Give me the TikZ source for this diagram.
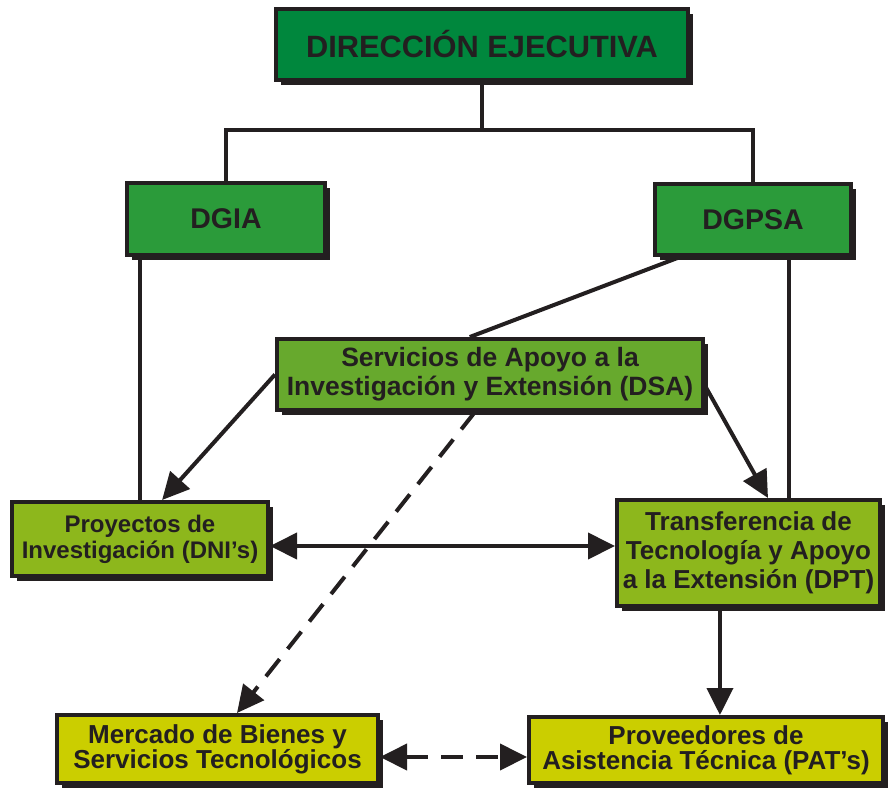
\documentclass[tikz,border=0pt]{standalone}
\usepackage{fontspec}
\setmainfont{Liberation Sans}
\usetikzlibrary{arrows.meta,shadows,calc}
\definecolor{cDir}{HTML}{00873D}
\definecolor{cDG}{HTML}{2B9B3A}
\definecolor{cDSA}{HTML}{67A92D}
\definecolor{cMid}{HTML}{8DB71C}
\definecolor{cLow}{HTML}{CBCE00}
\definecolor{ink}{HTML}{231F20}
\begin{document}
\begin{tikzpicture}[x=1pt,y=-1pt,
  box/.style={draw=ink, line width=4pt, text=ink, align=center, inner sep=0pt,
    drop shadow={shadow xshift=5pt,shadow yshift=-5pt,fill=ink,opacity=1}},
  conn/.style={draw=ink,line width=4pt},
  arr/.style={conn,-{Triangle[length=27pt,width=26pt]}},
  darr/.style={conn,{Triangle[length=27pt,width=26pt]}-{Triangle[length=27pt,width=26pt]}},
  dashline/.style={dash pattern=on 22pt off 13pt}]
\useasboundingbox (0,0) rectangle (893,787);

\node[box, fill=cDir, minimum width=412pt, minimum height=71pt,
  font=\bfseries\fontsize{30.8}{34}\selectfont] (dir) at (482,44.5) {DIRECCIÓN EJECUTIVA};
\node[box, fill=cDG, minimum width=198pt, minimum height=72pt,
  font=\bfseries\fontsize{28.5}{32}\selectfont] (dgia) at (226,219) {DGIA};
\node[box, fill=cDG, minimum width=196pt, minimum height=71pt,
  font=\bfseries\fontsize{28.5}{32}\selectfont] (dgpsa) at (753,219.5) {DGPSA};
\node[box, fill=cDSA, minimum width=426pt, minimum height=71pt,
  font=\bfseries\fontsize{26.5}{29}\selectfont] (dsa) at (490,374.5)
  {Servicios de Apoyo a la\\Investigación y Extensión (DSA)};
\node[box, fill=cMid, minimum width=256pt, minimum height=74pt,
  font=\bfseries\fontsize{24}{26}\selectfont] (dni) at (140,539)
  {Proyectos de\\Investigación (DNI’s)};
\node[box, fill=cMid, minimum width=263pt, minimum height=106pt,
  font=\bfseries\fontsize{26}{29}\selectfont] (dpt) at (748.5,553)
  {Transferencia de\\Tecnología y Apoyo\\a la Extensión (DPT)};
\node[box, fill=cLow, minimum width=321pt, minimum height=68pt,
  font=\bfseries\fontsize{26}{25}\selectfont] (merc) at (217.5,749)
  {Mercado de Bienes y\\Servicios Tecnológicos};
\node[box, fill=cLow, minimum width=354pt, minimum height=66pt,
  font=\bfseries\fontsize{26}{25}\selectfont] (prov) at (706,750)
  {Proveedores de\\Asistencia Técnica (PAT’s)};

% connectors
\coordinate (jn) at (dir.south |- 0,130);
\draw[conn] (dir.south) -- (jn);
\draw[conn] (dgia.north) |- (jn) -| (dgpsa.north);
\draw[conn] (dgia.south -| dni.north) -- (dni.north);
\coordinate (g1) at ($(dgpsa.south west)!0.68!(dgpsa.south east)$);
\draw[conn] (g1) -- (g1 |- dpt.north);
\draw[conn] ($(dgpsa.south west)!0.135!(dgpsa.south east)$) -- ($(dsa.north west)!0.453!(dsa.north east)$);
\draw[arr] (dsa.west) -- ($(dni.north west)!0.585!(dni.north east)$);
\draw[arr] ($(dsa.north east)!0.65!(dsa.south east)$) -- ($(dpt.north west)!0.573!(dpt.north east)$);
\draw[arr,dashline] ($(dsa.south west)!0.465!(dsa.south east)$) -- ($(merc.north west)!0.56!(merc.north east)$);
\coordinate (m) at ($(dni.east)!0.5!(dpt.west)$);
\draw[darr] (dni.east |- m) -- (dpt.west |- m);
\coordinate (d1) at ($(dpt.south west)!0.393!(dpt.south east)$);
\draw[arr] (d1) -- (d1 |- prov.north);
\coordinate (b1) at (0,757);
\draw[darr,dashline] (merc.east |- b1) -- (prov.west |- b1);
\end{tikzpicture}
\end{document}
